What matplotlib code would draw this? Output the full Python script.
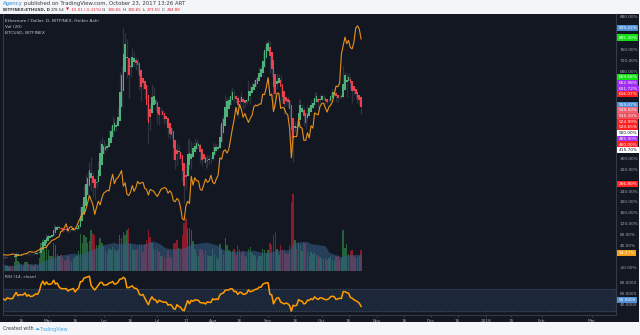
import numpy as np
import pandas as pd
import matplotlib
matplotlib.use('Agg')
import matplotlib.pyplot as plt
import matplotlib.dates as mdates
import matplotlib.transforms as mtransforms

W, H = 640, 335

# ETHUSD daily (BITFINEX), 2017-04-06 .. 2017-10-23
dates = pd.date_range('2017-04-06', '2017-10-23', freq='D')
eth_first_open = 44.7
eth_close = [
    43.2, 42.3, 44.4, 43.9, 43.6, 43.8, 46.4, 49.7, 47.3, 48.3, 48.1, 48.3, 50.1, 47.9, 49.3, 48.1, 48.3, 49.1, 50.3, 50.0,
    53.1, 63.1, 72.7, 69.8, 79.8,
    77.5, 77.5, 80.2, 94.8, 90.6, 94.9, 90.3, 88.3, 87.9, 88.0, 88.1, 85.5, 88.2, 89.3, 91.2, 87.6, 92.6, 96.8, 123, 124,
    157, 167, 176, 192, 170, 163, 157, 173, 194, 228, 230,
    221, 223, 224, 245, 248, 264, 256, 259, 279, 337, 339, 395, 389, 344, 345, 358, 371, 359, 358, 351,
    325, 320, 327, 304, 279, 252, 287, 316, 292, 291,
    262, 283, 276, 268, 266, 266, 240, 245, 237, 205, 196, 224, 206, 197, 169, 155, 189, 228, 194, 226,
    216, 229, 227, 225, 204, 201, 202, 191, 206, 201, 201,
    225, 218, 224, 220, 253, 264, 269, 296, 296, 298, 309, 308, 297, 299, 286, 300, 300, 292, 293, 299,
    321, 314, 318, 325, 331, 333, 347, 347, 372, 383, 388,
    388, 348, 347, 295, 317, 334, 333, 305, 298, 291, 296, 291, 278, 223, 258, 252, 255, 296, 285, 282,
    258, 263, 285, 283, 295, 289, 309, 299, 292, 303,
    303, 297, 293, 293, 298, 309, 311, 309, 297, 300, 303, 302, 338, 338, 334, 333, 317, 314, 308, 304,
    300, 293.55, 278.54,
]
eth_high = [
    44.9, 43.6, 44.8, 44.6, 44.2, 44.1, 46.9, 51.5, 49.8, 48.8, 48.9, 48.6, 50.9, 50.5, 49.8, 50.0, 48.8, 49.5, 50.8, 50.5,
    54.3, 63.5, 75.0, 73.5, 80.2,
    81.0, 79.5, 81.5, 97.5, 96.0, 95.5, 95.5, 91.5, 90.5, 89.0, 89.5, 89.0, 89.0, 90.0, 92.0, 92.5, 93.5, 98.5, 126, 130,
    160, 177, 182, 197, 205, 181, 167, 176, 198, 232, 237,
    232, 228, 226, 249, 254, 270, 268, 262, 283, 342, 352, 414, 405, 395, 355, 365, 380, 374, 365, 364,
    352, 330, 331, 328, 305, 280, 292, 322, 317, 298,
    293, 286, 285, 280, 270, 269, 265, 248, 247, 238, 214, 227, 224, 209, 198, 175, 195, 234, 235, 230,
    229, 235, 234, 230, 227, 206, 205, 203, 210, 208, 207,
    228, 227, 226, 226, 257, 269, 273, 305, 302, 302, 313, 318, 312, 304, 303, 303, 310, 302, 297, 302,
    328, 320, 326, 330, 334, 335, 350, 352, 374, 385, 392,
    395, 392, 356, 348, 325, 340, 338, 336, 308, 300, 302, 303, 292, 280, 265, 262, 258, 298, 298, 290,
    285, 268, 288, 289, 297, 298, 310, 310, 300, 305,
    306, 305, 300, 296, 300, 310, 314, 315, 310, 305, 306, 306, 351, 342, 340, 340, 334, 318, 316, 312,
    306, 303, 293.93,
]
eth_low = [
    42.1, 41.6, 42.3, 43.3, 43.0, 43.1, 43.6, 46.0, 46.5, 46.8, 47.4, 47.3, 48.0, 47.2, 47.6, 47.5, 46.9, 47.6, 48.5, 49.2,
    49.6, 52.7, 61.0, 67.5, 68.5,
    74.0, 75.5, 76.5, 79.5, 88.0, 89.5, 88.5, 85.0, 84.5, 86.0, 86.0, 82.0, 84.0, 87.5, 87.5, 86.0, 87.0, 91.5, 96.5, 118,
    122, 145, 160, 170, 150, 140, 135, 155, 170, 190, 210,
    210, 214, 216, 222, 240, 245, 248, 246, 257, 277, 320, 336, 360, 332, 300, 334, 352, 350, 345, 340,
    312, 295, 315, 298, 265, 225, 248, 283, 288, 280,
    258, 257, 272, 264, 258, 260, 237, 233, 235, 200, 186, 190, 202, 192, 166, 131, 154, 185, 185, 186,
    208, 213, 219, 220, 195, 190, 196, 186, 189, 194, 195,
    200, 214, 215, 216, 219, 250, 260, 268, 285, 288, 295, 302, 292, 292, 268, 283, 295, 282, 286, 290,
    298, 290, 312, 316, 323, 328, 332, 337, 345, 370, 381,
    382, 340, 334, 282, 285, 315, 325, 295, 292, 274, 288, 285, 265, 210, 197, 245, 241, 252, 278, 276,
    255, 250, 262, 280, 282, 286, 288, 295, 284, 291,
    298, 295, 290, 290, 291, 297, 306, 305, 293, 294, 299, 298, 300, 330, 302, 327, 314, 292, 305, 298,
    292, 288, 273.5,
]
# daily volume, thousand ETH
eth_volume = [
    80, 70, 60, 50, 55, 60, 110, 160, 120, 90, 70, 60, 100, 110, 80, 70, 65, 60, 85, 70,
    150, 330, 360, 250, 300,
    250, 180, 170, 330, 300, 200, 170, 190, 150, 120, 130, 170, 140, 110, 140, 160, 180, 230, 430, 330,
    420, 400, 330, 350, 480, 430, 420, 300, 300, 380, 330,
    290, 230, 200, 260, 240, 280, 260, 230, 250, 420, 380, 460, 420, 480, 500, 320, 260, 250, 240, 260,
    320, 300, 220, 300, 360, 480, 400, 330, 260, 240,
    260, 220, 180, 170, 150, 150, 230, 160, 150, 330, 330, 360, 270, 260, 420, 560, 620, 500, 500, 480,
    350, 260, 200, 180, 260, 240, 200, 230, 190, 180, 170,
    260, 200, 160, 140, 320, 250, 200, 380, 300, 240, 230, 230, 260, 190, 300, 260, 200, 230, 170, 160,
    260, 280, 210, 190, 170, 130, 170, 180, 260, 250, 210,
    250, 330, 300, 420, 450, 260, 190, 300, 250, 220, 200, 200, 300, 800, 900, 360, 260, 330, 300, 230,
    330, 310, 220, 180, 220, 200, 220, 190, 170, 160,
    140, 140, 150, 130, 150, 180, 130, 120, 180, 160, 130, 150, 480, 270, 320, 200, 230, 250, 160, 150,
    150, 170, 250,
]
# closes before the first visible bar, used to seed RSI(14)
eth_close_prior = [42.3, 42.9, 41.7, 42.9, 53.0, 50.4, 50.4, 50.4, 49.7, 52.8, 52.0, 49.8, 50.7, 48.6, 44.1, 44.9, 44.7]
base_close = 43.86

# BTCUSD (BITFINEX) overlay, own scale
btc_close = [
    1190, 1195, 1185, 1190, 1200, 1210, 1205, 1175, 1180, 1185, 1185, 1205, 1215, 1220, 1250, 1260, 1250, 1250, 1255, 1280,
    1300, 1340, 1330, 1345, 1355,
    1420, 1450, 1500, 1510, 1530, 1560, 1570, 1690, 1700, 1770, 1850, 1700, 1780, 1790, 1720, 1740, 1810, 1900, 1980, 2070,
    2050, 2150, 2300, 2450, 2350, 2250, 2050, 2200, 2330, 2250, 2400,
    2500, 2530, 2560, 2550, 2750, 2900, 2700, 2800, 2830, 2900, 2980, 2650, 2720, 2480, 2450, 2520, 2660, 2540, 2620, 2750,
    2700, 2720, 2730, 2600, 2580, 2460, 2580, 2560, 2540, 2480,
    2430, 2500, 2580, 2600, 2620, 2600, 2500, 2550, 2500, 2340, 2320, 2390, 2350, 2200, 1960, 1930, 2230, 2330, 2280, 2860,
    2670, 2830, 2760, 2760, 2580, 2560, 2680, 2800, 2730, 2760, 2880,
    2730, 2700, 2800, 2880, 3250, 3220, 3390, 3420, 3350, 3430, 3650, 3870, 4060, 4320, 4160, 4380, 4280, 4110, 4190, 4090,
    4000, 4090, 4150, 4330, 4370, 4350, 4390, 4390, 4600, 4590, 4750,
    4950, 4570, 4600, 4230, 4400, 4620, 4620, 4300, 4320, 4300, 4200, 4160, 3880, 3250, 3700, 3700, 3700, 4080, 3900, 3880,
    3620, 3620, 3780, 3670, 3930, 3880, 4200, 4180, 4160, 4340,
    4400, 4410, 4310, 4220, 4330, 4370, 4440, 4610, 4770, 4760, 4830, 5450, 5630, 5810, 5670, 5740, 5590, 5560, 5700, 6000,
    6050, 5980, 5770,
]

# right scale markers (value, colour)
marker_values = [839.22, 805.30, 659.68, 652.98, 631.72, 616.07, 559.07, 549.50, 535.10, 524.99,
                 520.65, 500.00, 485.00, 460.00, 415.70, 266.80, 14.27]
marker_colors = ['#4f8fd4', '#12e012', '#12e012', '#a22cf5', '#a22cf5', '#ff2121', '#4f8fd4', '#ec6272',
                 '#e9515f', '#ff2121', '#ff2121', '#ffffff', '#a22cf5', '#ff2121', '#ffffff', '#ff2121', '#f5a11c']
price_ticks = np.arange(-40, 881, 40)
rsi_ticks = [80, 60, 40]
rsi_marker = 50.0

time_ticks = ['2017-04-16', '2017-05-01', '2017-05-16', '2017-06-01', '2017-06-16', '2017-07-01', '2017-07-17',
              '2017-08-01', '2017-08-16', '2017-09-01', '2017-09-16', '2017-10-01', '2017-10-16', '2017-11-01',
              '2017-11-16', '2017-12-01', '2017-12-16', '2018-01-01', '2018-01-15', '2018-02-01', '2018-03-01']
time_labels = ['16', 'May', '16', 'Jun', '16', 'Jul', '17', 'Aug', '16', 'Sep', '16', 'Oct', '16', 'Nov',
               '16', 'Dec', '16', '2018', '15', 'Feb', 'Mar']

# --- Heikin Ashi ---
c = np.array(eth_close, float)
h = np.array(eth_high, float)
l = np.array(eth_low, float)
o = np.r_[eth_first_open, c[:-1]]
ha_close = (o + h + l + c) / 4
ha_open = np.empty_like(ha_close)
ha_open[0] = (o[0] + c[0]) / 2
for i in range(1, len(c)):
    ha_open[i] = (ha_open[i - 1] + ha_close[i - 1]) / 2
ha_high = np.maximum.reduce([h, ha_open, ha_close])
ha_low = np.minimum.reduce([l, ha_open, ha_close])


def pct(v):
    return (np.asarray(v) / base_close - 1) * 100


def wilder_rsi(values, n=14):
    values = np.asarray(values, float)
    d = np.diff(values)
    up, dn = np.clip(d, 0, None), np.clip(-d, 0, None)
    out = np.full(len(values), np.nan)
    au, ad = up[:n].mean(), dn[:n].mean()
    out[n] = 100 - 100 / (1 + au / ad)
    for i in range(n, len(d)):
        au = (au * (n - 1) + up[i]) / n
        ad = (ad * (n - 1) + dn[i]) / n
        out[i + 1] = 100 - 100 / (1 + au / ad)
    return out


rsi = wilder_rsi(np.r_[eth_close_prior, c])[len(eth_close_prior):]

x = mdates.date2num(dates)
xmin = mdates.date2num(pd.Timestamp('2017-04-05 16:00'))
xmax = mdates.date2num(pd.Timestamp('2018-03-14 15:00'))

BG = '#131722'
TXT = '#a3a6af'
UP = '#4fb17a'
DN = '#e8424f'

fig = plt.figure(figsize=(W / 100, H / 100), dpi=100)
fig.patch.set_facecolor('#f3f5f8')
fig.add_artist(plt.Rectangle((0, 13 / H), 639 / W, 1 - 27 / H, transform=fig.transFigure,
                             facecolor=BG, edgecolor='none', zorder=0))

ax = fig.add_axes([3 / W, 64 / H, 613 / W, 257 / H])
ax.set_facecolor(BG)
ax.set_xlim(xmin, xmax)
ax.set_ylim(-51.4, 891.7)
for s in ax.spines.values():
    s.set_color('#363a45')
    s.set_linewidth(0.8)
ax.spines['top'].set_visible(False)
ax.set_xticks([])
ax.set_yticks([])

# volume + its 20-day average, drawn low on its own scale
axv = ax.twinx()
axv.set_ylim(0, 3000)
axv.set_axis_off()
vol = np.array(eth_volume, float)
vcol = np.where(ha_close >= ha_open, '#2b6b3c', '#9a1b2d')
axv.bar(x, vol, width=0.8, color=vcol, alpha=0.9, zorder=1)
vma = pd.Series(vol).rolling(20, min_periods=1).mean().values
axv.fill_between(x, 0, vma, color='#34608a', alpha=0.55, linewidth=0, zorder=2)

# candles
axc = ax.twinx()
axc.set_ylim(ax.get_ylim())
axc.set_axis_off()
up = ha_close >= ha_open
colors = np.where(up, UP, DN)
axc.vlines(x, pct(ha_low), pct(ha_high), color='#2f333f', linewidth=0.9, zorder=3)
body_lo = pct(np.minimum(ha_open, ha_close))
body_hi = pct(np.maximum(ha_open, ha_close))
axc.bar(x, body_hi - body_lo, bottom=body_lo, width=0.9, color=colors, linewidth=0, zorder=4)

# BTCUSD overlay
axb = ax.twinx()
axb.set_ylim(850, 6300)
axb.set_axis_off()
axb.plot(x, btc_close, color='#e8911a', linewidth=0.8, zorder=5)

# right price scale
tr = mtransforms.blended_transform_factory(ax.transAxes, ax.transData)
px_per_unit = 257 / (891.7 + 51.4)
gap = 5.7 / px_per_unit
shown = []
last = None
for v in marker_values:
    pos = v if last is None else min(v, last - gap)
    shown.append(pos)
    last = pos
for t in price_ticks:
    if any(abs(t - p) < 4.5 / px_per_unit for p in shown):
        continue
    ax.text(1.006, t, f'{t:.2f}%', transform=tr, fontsize=3.1, color=TXT, va='center', ha='left', clip_on=False)
for v, p, col in zip(marker_values, shown, marker_colors):
    tc = '#131722' if col == '#ffffff' else '#ffffff'
    ax.text(1.004, p, f'{v:.2f}%', transform=tr, fontsize=3.1, color=tc, va='center', ha='left', clip_on=False,
            bbox=dict(boxstyle='square,pad=0.25', fc=col, ec='none'))

# RSI pane
axr = fig.add_axes([3 / W, 20 / H, 613 / W, 44 / H])
axr.set_facecolor(BG)
axr.set_xlim(xmin, xmax)
axr.set_ylim(22, 102)
axr.axhspan(30, 70, color='#1c2739', zorder=0)
for lvl in (30, 70):
    axr.axhline(lvl, color='#4b5466', linewidth=0.5, linestyle=(0, (2, 2)), zorder=1)
axr.plot(x, rsi, color='#ff9d00', linewidth=1.1, zorder=3)
for s in axr.spines.values():
    s.set_color('#363a45')
    s.set_linewidth(0.8)
axr.spines['top'].set_visible(False)
axr.set_yticks([])
axr.set_xticks(mdates.date2num(pd.to_datetime(time_ticks)))
axr.set_xticklabels(time_labels)
axr.tick_params(axis='x', length=1.5, width=0.5, color='#4b5466', pad=1.5, labelsize=3.1, labelcolor=TXT)
trr = mtransforms.blended_transform_factory(axr.transAxes, axr.transData)
for t in rsi_ticks:
    axr.text(1.006, t, f'{t:.4f}', transform=trr, fontsize=3.1, color=TXT, va='center', ha='left', clip_on=False)
axr.text(1.004, rsi_marker, f'{rsi_marker:.4f}', transform=trr, fontsize=3.1, color='white', va='center',
         ha='left', clip_on=False, bbox=dict(boxstyle='square,pad=0.25', fc='#4f8fd4', ec='none'))

# legends inside the panes
fig.text(5 / W, 1 - 21 / H, 'Ethereum / Dollar, D, BITFINEX, Heikin Ashi', fontsize=3.2, color='#c3c6ce', va='center')
fig.text(5 / W, 1 - 27 / H, 'Vol (20)', fontsize=3.2, color='#c3c6ce', va='center')
fig.text(5 / W, 1 - 33 / H, 'BTCUSD, BITFINEX', fontsize=3.2, color='#c3c6ce', va='center')
fig.text(5 / W, 1 - 277 / H, 'RSI (14, close)', fontsize=3.2, color='#c3c6ce', va='center')

# header and footer
renderer = fig.canvas.get_renderer()


def runs(x0, y0, parts, size):
    xx = x0
    for s, col, wt in parts:
        t = fig.text(xx / W, 1 - y0 / H, s, fontsize=size, color=col, fontweight=wt, va='center', ha='left')
        xx += t.get_window_extent(renderer).width + 1.0


RED = '#e0262f'
DARK = '#3c3c3c'
runs(3, 3.5, [('Agency', '#2a8de0', 'normal'), ('published on TradingView.com, October 23, 2017 13:26 ART', DARK, 'normal')], 3.9)
runs(3, 9.8, [('BITFINEX:ETHUSD, D', DARK, 'bold'), ('278.54', DARK, 'normal'), ('▼', RED, 'normal'),
              ('-15.01 (-5.11%)', RED, 'normal'), ('O:', DARK, 'normal'), ('300.65', RED, 'normal'),
              ('H:', DARK, 'normal'), ('300.65', RED, 'normal'), ('L:', DARK, 'normal'), ('273.50', RED, 'normal'),
              ('C:', DARK, 'normal'), ('284.88', RED, 'normal')], 2.9)
runs(3, 329, [('Created with', DARK, 'normal'), ('☁', '#48a8e8', 'normal'), ('TradingView', '#48a8e8', 'normal')], 3.4)

fig.savefig('out.png', dpi=100, facecolor=fig.get_facecolor())
